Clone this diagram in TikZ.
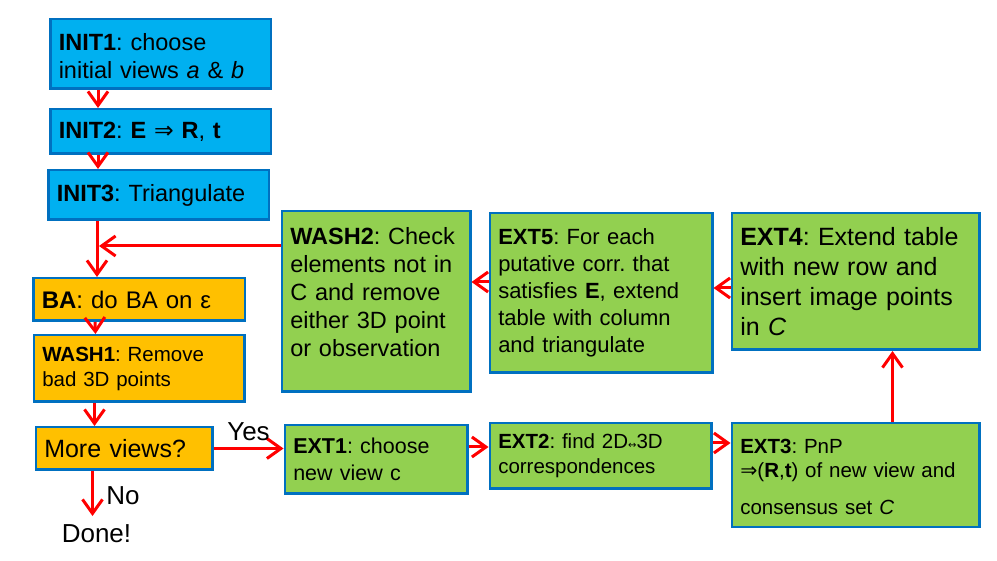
\documentclass[tikz,border=0pt]{standalone}
\usepackage{fontspec}
\setmainfont{Liberation Sans}
\newfontfamily\dvfont{DejaVu Sans}
\usepackage{tikz}
\usetikzlibrary{positioning, arrows.meta}
\frenchspacing

\definecolor{boxblue}{RGB}{0,112,192}
\definecolor{initfill}{RGB}{0,176,240}
\definecolor{bafill}{RGB}{255,192,0}
\definecolor{extfill}{RGB}{146,208,80}

\begin{document}
\begin{tikzpicture}[x=1pt, y=1pt,
    box/.style={draw=boxblue, line width=2.5pt, inner sep=8.5pt, align=left},
    initbox/.style={box, fill=initfill, text width=203.5pt, font=\fontsize{23.5}{28}\selectfont},
    babox/.style={box, fill=bafill},
    extbox/.style={box, fill=extfill},
    arr/.style={-{Straight Barb[length=14pt, width=20pt]}, draw=red, line width=3pt},
    lbl/.style={font=\fontsize{26}{30}\selectfont}]
    \useasboundingbox (0,0) rectangle (997,-561);
        % start column
        \node[initbox, minimum height=69.5pt, text height=21pt] (init1) at (160.5,-54) {\textbf{INIT1}: choose\\initial views \textit{a} \& \textit{b}};
        \node[initbox, minimum height=44.5pt, below=18pt of init1] (init2) {\textbf{INIT2}: \textbf{E} {\dvfont ⇒} \textbf{R}, \textbf{t}};
        \node[initbox, minimum height=49.5pt, below=14pt of init2, xshift=-2pt] (init3) {\textbf{INIT3}: Triangulate};
        \node[babox, text width=194.5pt, minimum height=42.5pt, below=56pt of init3, xshift=-19.5pt, font=\fontsize{24}{28}\selectfont] (ba) {\textbf{BA}: do BA on ε};
        \node[babox, text width=193.5pt, minimum height=66.5pt, below=12pt of ba, font=\fontsize{20.5}{25}\selectfont] (wash1) {\textbf{WASH1}: Remove\\bad 3D points};
        \node[babox, text width=159.5pt, minimum height=42.5pt, below=23pt of wash1, xshift=-15pt, font=\fontsize{25}{30}\selectfont] (more) {More views?};
        \node[lbl, below=50pt of more, xshift=-27.5pt] (done) {Done!};
        % extension loop
        \node[extbox, text width=165.5pt, minimum height=68.5pt, right=70pt of more, yshift=-11pt, font=\fontsize{21.5}{27}\selectfont] (ext1) {\textbf{EXT1}: choose\\new view c};
        \node[extbox, text width=204.5pt, minimum height=65.5pt, right=20pt of ext1, yshift=3.5pt, font=\fontsize{20.5}{25}\selectfont] (ext2) {\textbf{EXT2}: find 2D{\dvfont\fontsize{10}{10}\selectfont ↔}3D\\correspondences};
        \node[extbox, text width=230.5pt, minimum height=103.5pt, right=18pt of ext2, yshift=-19pt, text height=19pt, font=\fontsize{20.5}{24}\selectfont] (ext3) {\textbf{EXT3}: PnP\\{\dvfont ⇒}(\textbf{R},\textbf{t}) of new view and\\[13pt]consensus set \textit{C}};
        \node[extbox, text width=230.5pt, minimum height=136.5pt, above=71pt of ext3, font=\fontsize{25}{30}\selectfont] (ext4) {\textbf{EXT4}: Extend table\\with new row and\\insert image points\\in \textit{C}};
        \node[extbox, text width=205.5pt, minimum height=159.5pt, left=17pt of ext4, yshift=-11.5pt, font=\fontsize{22}{27}\selectfont] (ext5) {\textbf{EXT5}: For each\\putative corr. that\\satisfies \textbf{E}, extend\\table with column\\and triangulate};
        \node[extbox, text width=171.5pt, minimum height=180.5pt, left=17pt of ext5, yshift=-8.5pt, text depth=132pt, font=\fontsize{23.5}{28}\selectfont] (wash2) {\textbf{WASH2}: Check\\elements not in\\C and remove\\either 3D point\\or observation};
        \coordinate (merge) at ([xshift=52pt, yshift=-25pt]init3.south west);
        % connectors
        \draw[arr] ([xshift=49pt]init1.south west) -- ([xshift=49pt]init2.north west);
        \draw[arr] ([xshift=49pt]init2.south west) -- ([xshift=51pt]init3.north west);
        \draw[arr] ([xshift=50pt]init3.south west) -- ([xshift=65pt]ba.north west);
        \draw[arr] ([xshift=63pt]ba.south west) -- ([xshift=63pt]wash1.north west);
        \draw[arr] ([xshift=62pt]wash1.south west) -- ([xshift=60pt]more.north west);
        \draw[arr, shorten >=5pt] ([xshift=58pt]more.south west) -- ([xshift=58pt]more.south west |- done.north) node[lbl, midway, right, xshift=9pt] {No};
        \draw[arr] (more.east) -- (more.east -| ext1.west) node[lbl, midway, above, yshift=3pt] {Yes};
        \draw[arr] ([yshift=12.5pt]ext1.east) -- ([yshift=12.5pt]ext1.east -| ext2.west);
        \draw[arr] ([yshift=13pt]ext2.east) -- ([yshift=13pt]ext2.east -| ext3.west);
        \draw[arr] ([xshift=37pt]ext3.north) -- ([xshift=37pt]ext4.south);
        \draw[arr] ([yshift=-6.5pt]ext4.west) -- ([yshift=-6.5pt]ext4.west -| ext5.east);
        \draw[arr] ([yshift=11pt]ext5.west) -- ([yshift=11pt]ext5.west -| wash2.east);
        \draw[arr] ([yshift=55.5pt]wash2.west) -- ([yshift=55.5pt]wash2.west -| merge);
    \end{tikzpicture}
\end{document}
